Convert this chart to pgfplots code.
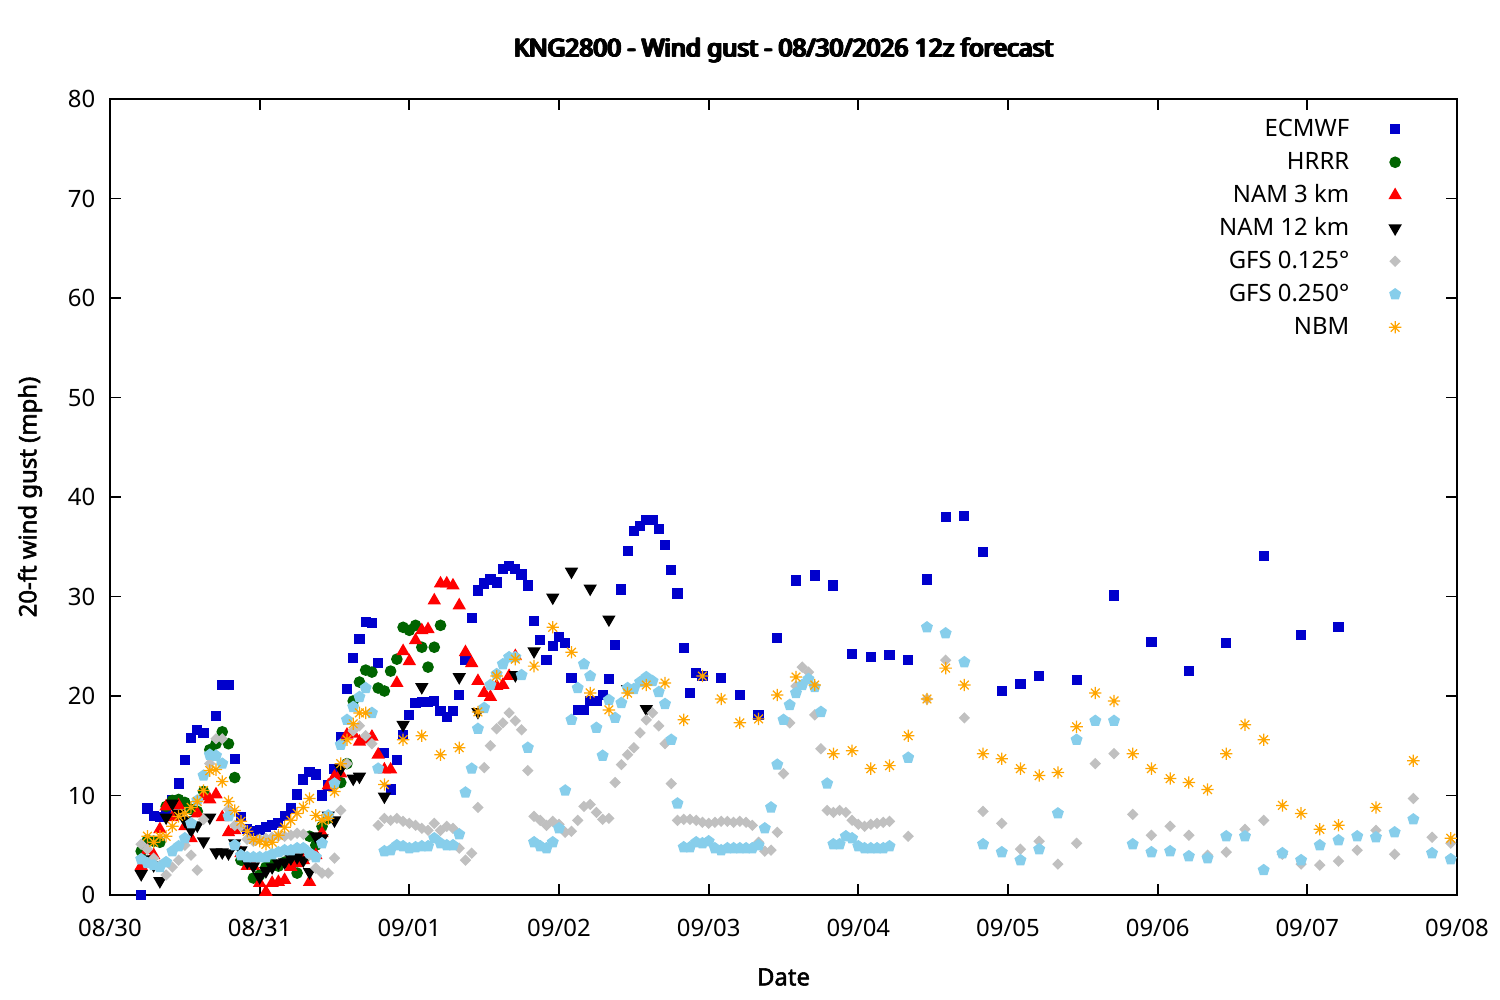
\documentclass[border=0pt]{standalone}
\usepackage{fontspec}
\setmainfont{Noto Sans}[AutoFakeBold=2.2]
\usepackage{pgfplots}
\pgfplotsset{compat=1.18}
\usetikzlibrary{plotmarks}
\newcommand\heavy[1]{\makebox[0pt][l]{#1}\makebox[0pt][l]{\hspace{0.17pt}#1}\makebox[0pt][l]{\hspace{0.34pt}#1}\hspace{0.5pt}#1}
\definecolor{ecm}{RGB}{0,0,204}
\definecolor{hrrr}{RGB}{0,100,0}
\definecolor{namt}{RGB}{255,0,0}
\definecolor{namtw}{RGB}{0,0,0}
\definecolor{gfsa}{RGB}{192,192,192}
\definecolor{gfsb}{RGB}{135,206,235}
\definecolor{nbm}{RGB}{255,165,0}
\pgfdeclareplotmark{ast8}{%
 \pgfpathmoveto{\pgfqpoint{-\pgfplotmarksize}{0pt}}\pgfpathlineto{\pgfqpoint{\pgfplotmarksize}{0pt}}%
 \pgfpathmoveto{\pgfqpoint{0pt}{-\pgfplotmarksize}}\pgfpathlineto{\pgfqpoint{0pt}{\pgfplotmarksize}}%
 \pgfpathmoveto{\pgfqpoint{-.707\pgfplotmarksize}{-.707\pgfplotmarksize}}\pgfpathlineto{\pgfqpoint{.707\pgfplotmarksize}{.707\pgfplotmarksize}}%
 \pgfpathmoveto{\pgfqpoint{-.707\pgfplotmarksize}{.707\pgfplotmarksize}}\pgfpathlineto{\pgfqpoint{.707\pgfplotmarksize}{-.707\pgfplotmarksize}}%
 \pgfusepathqstroke}
\begin{document}
\fontsize{6.8}{8}\selectfont
\begin{tikzpicture}
\path[use as bounding box] (0,0) rectangle (150mm,100mm);
\begin{axis}[
  at={(11mm,10.5mm)}, anchor=south west, scale only axis,
  width=134.7mm, height=79.6mm,
  xmin=0, xmax=216, ymin=0, ymax=80,
  xtick={0,24,...,216},
  xticklabels={08/30,08/31,09/01,09/02,09/03,09/04,09/05,09/06,09/07,09/08},
  ytick={0,10,...,80},
  yticklabel style={/pgf/number format/assume math mode=true, xshift=-0.6mm},
  xticklabel style={yshift=-1.6mm},
  tick align=inside, major tick length=1.1mm,
  tick style={black, line width=0.5pt},
  axis line style={line width=0.5pt},
  clip=false,
  xlabel={Date},
  xlabel style={at={(axis description cs:0.5,-0.103)}, anchor=center, font=\bfseries},
  ylabel={20-ft wind gust (mph)},
  ylabel style={at={(axis description cs:-0.0594,0.5)}, anchor=center, font=\bfseries},
  legend plot pos=right,
  legend cell align=right,
  legend style={draw=none, fill=none, at={(axis description cs:0.967,0.989)}, anchor=north east,
    nodes={inner sep=0.5pt, text height=1.9mm, text depth=0.5mm}, row sep=0.55mm, column sep=3.8mm},
  every axis plot/.append style={only marks},
]
\node[font=\fontsize{6.95}{8}\selectfont\bfseries, anchor=center] at (rel axis cs:0.5,1.0616) {\heavy{KNG2800 - Wind gust - 08/30/2026 12z forecast}};
\addplot[mark=square*, mark size=1.25pt, color=ecm] coordinates {
(5,0)(6,8.7)(7,7.9)(8,7.8)(9,8.5)(10,9.5)(11,11.2)(12,13.6)(13,15.8)(14,16.6)(15,16.3)(16,14.5)(17,18.0)(18,21.1)(19,21.1)(20,13.7)
(21,7.8)(22,6.6)(23,6.4)(24,6.5)(25,6.8)(26,7.0)(27,7.2)(28,7.9)(29,8.7)(30,10.1)(31,11.6)(32,12.4)(33,12.1)(34,10.0)(35,11.0)(36,12.7)
(37,15.9)(38,20.7)(39,23.8)(40,25.7)(41,27.4)(42,27.3)(43,23.3)(44,14.3)(45,10.6)(46,13.6)(47,16.1)(48,18.1)(49,19.3)(50,19.4)
(51,19.4)(52,19.5)(53,18.5)(54,17.9)(55,18.5)(56,20.1)(57,23.6)(58,27.8)(59,30.6)(60,31.3)(61,31.7)(62,31.4)(63,32.8)(64,33.1)
(65,32.8)(66,32.2)(67,31.1)(68,27.5)(69,25.6)(70,23.6)(71,25.0)(72,25.9)(73,25.3)(74,21.8)(75,18.6)(76,18.6)(77,19.5)(78,19.5)
(79,20.1)(80,21.7)(81,25.1)(82,30.7)(83,34.6)(84,36.6)(85,37.1)(86,37.7)(87,37.7)(88,36.8)(89,35.2)(90,32.7)(91,30.3)(92,24.8)
(93,20.3)(94,22.3)(95,22.0)(98,21.8)(101,20.1)(104,18.1)(107,25.8)(110,31.6)(113,32.1)(116,31.1)(119,24.2)(122,23.9)(125,24.1)
(128,23.6)(131,31.7)(134,38.0)(137,38.1)(140,34.5)(143,20.5)(146,21.2)(149,22.0)(155,21.6)(161,30.1)(167,25.4)(173,22.5)(179,25.3)
(185,34.1)(191,26.1)(197,26.9)};
\addlegendentry{ECMWF}
\addplot[mark=*, mark size=1.45pt, color=hrrr] coordinates {
(5,4.4)(6,5.5)(7,5.4)(8,5.3)(9,8.9)(10,9.5)(11,9.6)(12,9.3)(13,8.6)(14,8.4)(15,10.4)(16,14.6)(17,15.2)(18,16.4)(19,15.2)(20,11.8)
(21,3.5)(22,3.2)(23,1.7)(24,2.0)(25,2.8)(26,3.2)(27,2.9)(28,3.3)(29,3.0)(30,2.2)(31,3.6)(32,5.9)(33,5.0)(34,6.9)(35,7.7)(36,11.2)
(37,11.3)(38,13.2)(39,19.5)(40,21.4)(41,22.6)(42,22.4)(43,20.8)(44,20.5)(45,22.5)(46,23.7)(47,26.9)(48,26.6)(49,27.1)(50,24.9)
(51,22.9)(52,24.9)(53,27.1)};
\addlegendentry{HRRR}
\addplot[mark=triangle*, mark size=1.8pt, color=namt] coordinates {
(5,2.9)(6,4.5)(7,4.0)(8,6.6)(9,8.9)(10,7.8)(11,9.0)(12,6.9)(13,5.7)(14,8.2)(15,9.9)(16,9.6)(17,10.1)(18,7.8)(19,6.3)(20,6.5)
(21,4.2)(22,2.9)(23,2.9)(24,1.2)(25,0.3)(26,1.2)(27,1.3)(28,1.5)(29,2.8)(30,3.2)(31,3.5)(32,1.3)(33,4.0)(34,6.2)(35,11.0)(36,11.9)
(37,12.2)(38,16.1)(39,16.2)(40,15.4)(41,15.6)(42,15.9)(43,14.1)(44,12.6)(45,12.6)(46,21.3)(47,24.5)(48,23.5)(49,25.6)(50,26.6)
(51,26.7)(52,29.6)(53,31.3)(54,31.3)(55,31.1)(56,29.1)(57,24.4)(58,23.3)(59,21.5)(60,20.3)(61,19.9)(62,21.0)(63,21.1)(64,22.0)(65,24.0)};
\addlegendentry{NAM 3 km}
\addplot[mark=triangle*, mark size=1.8pt, mark options={rotate=180}, color=namtw] coordinates {
(5,2.1)(6,3.6)(7,3.0)(8,1.4)(9,7.8)(10,9.2)(11,8.2)(12,7.5)(13,6.5)(14,7.0)(15,5.4)(16,7.8)(17,4.3)(18,4.3)(19,4.2)(20,5.2)
(21,4.5)(22,3.3)(23,2.9)(24,1.8)(25,2.4)(26,2.8)(27,3.2)(28,3.3)(29,3.7)(30,3.8)(31,3.5)(32,2.3)(33,5.9)(34,5.7)(35,8.0)(36,7.5)
(37,12.7)(39,11.7)(40,11.9)(44,9.9)(47,17.1)(50,20.9)(56,21.9)(59,18.4)(65,22.1)(68,24.5)(71,29.9)(74,32.5)(77,30.8)(80,27.7)
(83,20.7)(86,18.7)};
\addlegendentry{NAM 12 km}
\addplot[mark=square*, mark size=0.95pt, mark options={rotate=45}, color=gfsa] coordinates {
(5,5.1)(6,4.6)(7,3.7)(8,3.0)(9,2.0)(10,2.8)(11,3.5)(12,5.0)(13,4.0)(14,2.5)(15,7.6)(16,13.2)(17,15.7)(18,15.7)(19,8.6)(20,7.0)
(21,6.9)(22,5.6)(23,5.4)(24,5.6)(25,5.7)(26,5.8)(27,5.9)(28,5.9)(29,6.0)(30,6.2)(31,6.1)(32,4.0)(33,2.7)(34,2.2)(35,2.2)(36,3.7)
(37,8.5)(38,13.2)(39,16.5)(40,17.0)(41,16.0)(42,15.2)(43,7.0)(44,7.7)(45,7.5)(46,7.7)(47,7.4)(48,7.2)(49,7.0)(50,6.7)(51,6.5)
(52,7.2)(53,6.5)(54,6.9)(55,6.7)(56,4.7)(57,3.5)(58,4.2)(59,8.8)(60,12.8)(61,15.0)(62,16.7)(63,17.3)(64,18.3)(65,17.5)(66,16.6)
(67,12.5)(68,7.9)(69,7.5)(70,7.0)(71,7.4)(72,7.1)(73,6.3)(74,6.4)(75,7.5)(76,8.9)(77,9.1)(78,8.3)(79,7.6)(80,7.7)(81,11.3)
(82,13.1)(83,14.1)(84,14.8)(85,16.3)(86,17.6)(87,18.3)(88,17.0)(89,15.2)(90,11.2)(91,7.5)(92,7.6)(93,7.6)(94,7.5)(95,7.3)
(96,7.2)(97,7.3)(98,7.4)(99,7.4)(100,7.3)(101,7.4)(102,7.3)(103,7.0)(104,5.3)(105,4.4)(106,4.5)(107,6.3)(108,12.2)(109,17.3)
(110,21.0)(111,22.9)(112,22.4)(113,18.1)(114,14.7)(115,8.5)(116,8.3)(117,8.5)(118,8.3)(119,7.5)(120,7.1)(121,6.9)(122,7.1)
(123,7.2)(124,7.3)(125,7.4)(128,5.9)(131,19.7)(134,23.6)(137,17.8)(140,8.4)(143,7.2)(146,4.6)(149,5.4)(152,3.1)(155,5.2)
(158,13.2)(161,14.2)(164,8.1)(167,6.0)(170,6.9)(173,6.0)(176,4.0)(179,4.3)(182,6.6)(185,7.5)(188,4.1)(191,3.1)(194,3.0)
(197,3.4)(200,4.5)(203,6.5)(206,4.1)(209,9.7)(212,5.8)(215,5.2)};
\addlegendentry{GFS 0.125°}
\addplot[mark=pentagon*, mark size=1.55pt, color=gfsb] coordinates {
(5,3.6)(6,3.2)(7,3.0)(8,2.8)(9,3.3)(10,4.4)(11,4.9)(12,5.7)(13,7.2)(14,9.5)(15,12.0)(16,14.1)(17,14.0)(18,13.2)(19,7.9)(20,5.0)
(21,4.0)(22,3.8)(23,3.8)(24,3.8)(25,3.8)(26,4.1)(27,4.3)(28,4.5)(29,4.5)(30,4.7)(31,4.7)(32,4.2)(33,3.8)(34,5.2)(35,8.0)(36,11.2)
(37,15.1)(38,17.6)(39,18.9)(40,19.9)(41,20.8)(42,18.3)(43,12.7)(44,4.4)(45,4.5)(46,5.0)(47,4.9)(48,4.7)(49,4.8)(50,4.9)(51,4.9)
(52,5.7)(53,5.2)(54,5.0)(55,5.0)(56,6.1)(57,10.3)(58,12.7)(59,16.7)(60,18.8)(61,21.1)(62,22.2)(63,23.2)(64,23.9)(65,23.9)
(66,22.1)(67,14.8)(68,5.3)(69,4.9)(70,4.7)(71,5.3)(72,6.7)(73,10.5)(74,17.6)(75,20.8)(76,23.2)(77,22.0)(78,16.8)(79,14.0)
(80,19.6)(81,17.8)(82,19.3)(83,20.8)(84,20.7)(85,21.4)(86,21.9)(87,21.5)(88,20.4)(89,19.2)(90,15.6)(91,9.2)(92,4.8)(93,4.8)
(94,5.3)(95,5.2)(96,5.4)(97,4.7)(98,4.5)(99,4.7)(100,4.7)(101,4.7)(102,4.7)(103,4.7)(104,5.0)(105,6.7)(106,8.8)(107,13.1)
(108,17.6)(109,19.1)(110,20.3)(111,21.1)(112,21.7)(113,20.9)(114,18.4)(115,11.2)(116,5.1)(117,5.1)(118,5.9)(119,5.7)(120,4.9)
(121,4.7)(122,4.7)(123,4.7)(124,4.7)(125,4.9)(128,13.8)(131,26.9)(134,26.3)(137,23.4)(140,5.1)(143,4.3)(146,3.5)(149,4.6)
(152,8.2)(155,15.6)(158,17.5)(161,17.5)(164,5.1)(167,4.3)(170,4.4)(173,3.9)(176,3.7)(179,5.9)(182,5.9)(185,2.5)(188,4.2)
(191,3.5)(194,5.0)(197,5.5)(200,5.9)(203,5.8)(206,6.3)(209,7.6)(212,4.2)(215,3.6)};
\addlegendentry{GFS 0.250°}
\addplot[mark=ast8, mark size=1.75pt, mark options={line width=0.35pt}, color=nbm] coordinates {
(6,5.9)(7,5.3)(8,5.9)(9,5.9)(10,6.9)(11,7.9)(12,8.2)(13,8.8)(14,9.4)(15,10.5)(16,12.5)(17,12.6)(18,11.4)(19,9.4)(20,8.5)
(21,7.4)(22,6.4)(23,5.6)(24,5.4)(25,5.1)(26,5.3)(27,6.0)(28,6.8)(29,7.5)(30,8.2)(31,8.8)(32,9.7)(33,8.0)(34,7.5)(35,7.7)(36,10.4)
(37,13.2)(38,15.6)(39,17.2)(40,18.3)(41,18.3)(44,11.1)(47,15.6)(50,16.0)(53,14.1)(56,14.8)(59,18.4)(62,22.0)(65,23.7)(68,23.0)
(71,26.9)(74,24.4)(77,20.3)(80,18.6)(83,20.3)(86,21.1)(89,21.3)(92,17.6)(95,22.0)(98,19.7)(101,17.3)(104,17.7)(107,20.1)
(110,21.9)(113,21.1)(116,14.2)(119,14.5)(122,12.7)(125,13.0)(128,16.0)(131,19.7)(134,22.8)(137,21.1)(140,14.2)(143,13.7)
(146,12.7)(149,12.0)(152,12.3)(155,16.9)(158,20.3)(161,19.5)(164,14.2)(167,12.7)(170,11.7)(173,11.3)(176,10.6)(179,14.2)
(182,17.1)(185,15.6)(188,9.0)(191,8.2)(194,6.6)(197,7.0)(203,8.8)(209,13.5)(215,5.7)};
\addlegendentry{NBM}
\end{axis}
\end{tikzpicture}
\end{document}
